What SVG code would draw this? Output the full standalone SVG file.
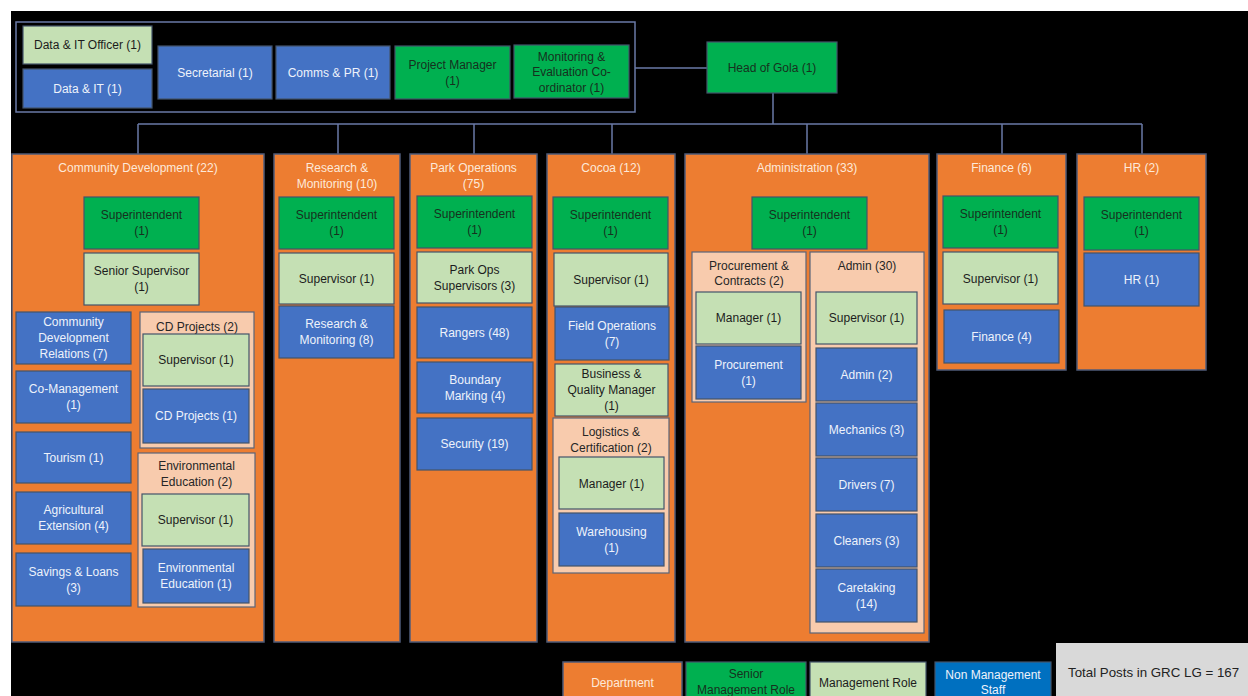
<svg xmlns="http://www.w3.org/2000/svg" width="1248" height="696" viewBox="0 0 1248 696">
<style>
text{font-family:"Liberation Sans",Arial,sans-serif;font-size:12px;text-anchor:middle}
.dept{fill:#ed7d31;stroke:#4f5b78;stroke-width:1.5}
.sen{fill:#00b050;stroke:#44546a;stroke-width:1.2}
.mgr{fill:#c5e0b4;stroke:#44546a;stroke-width:1.2}
.staff{fill:#4472c4;stroke:#44546a;stroke-width:1.2}
.grp{fill:#f8cbad;stroke:#5b6478;stroke-width:1.2}
.ts{fill:#16301e}
.tm{fill:#1c1c1c}
.tb{fill:#eef2fb}
.tg{fill:#262626}
.td{fill:#fde9d9}
.conn{fill:none;stroke:#6a79a6;stroke-width:1.5}
</style>
<rect x="0" y="0" width="1248" height="696" fill="#ffffff"/>
<rect x="11" y="11" width="1237" height="685" fill="#000000"/>

<g id="connectors">
<rect x="16" y="22" width="619" height="90" class="conn"/>
<path class="conn" d="M635,68 H707 M773,93 V124 M138,124 H1142 M138,124 V154 M338,124 V154 M474,124 V154 M612,124 V154 M807,124 V154 M1002,124 V154 M1142,124 V154"/>
</g>

<g id="n-data-it-officer"><rect x="23" y="26" width="129" height="38" class="mgr"/><text x="87.5" y="49" class="tm">Data &amp; IT Officer (1)</text></g>
<g id="n-data-it"><rect x="23" y="69" width="129" height="39" class="staff"/><text x="87.5" y="93" class="tb">Data &amp; IT (1)</text></g>
<g id="n-secretarial"><rect x="158" y="46" width="114" height="53" class="staff"/><text x="215" y="77" class="tb">Secretarial (1)</text></g>
<g id="n-comms"><rect x="276" y="46" width="114" height="53" class="staff"/><text x="333" y="77" class="tb">Comms &amp; PR (1)</text></g>
<g id="n-pm"><rect x="395" y="46" width="115" height="53" class="sen"/><text x="452.5" y="69" class="ts">Project Manager</text><text x="452.5" y="85" class="ts">(1)</text></g>
<g id="n-me"><rect x="514" y="45" width="115" height="53" class="sen"/><text x="571.5" y="61" class="ts">Monitoring &amp;</text><text x="571.5" y="76" class="ts">Evaluation Co-</text><text x="571.5" y="92" class="ts">ordinator (1)</text></g>
<g id="n-head"><rect x="707" y="42" width="130" height="51" class="sen"/><text x="772" y="72" class="ts">Head of Gola (1)</text></g>

<g id="d-cd"><rect x="12" y="154" width="252" height="488" class="dept"/><text x="138" y="172" class="td">Community Development (22)</text></g>
<g id="d-rm"><rect x="274" y="154" width="126" height="488" class="dept"/><text x="337" y="172" class="td">Research &amp;</text><text x="337" y="188" class="td">Monitoring (10)</text></g>
<g id="d-po"><rect x="410" y="154" width="127" height="488" class="dept"/><text x="473.5" y="172" class="td">Park Operations</text><text x="473.5" y="188" class="td">(75)</text></g>
<g id="d-cocoa"><rect x="547" y="154" width="128" height="488" class="dept"/><text x="611" y="172" class="td">Cocoa (12)</text></g>
<g id="d-admin"><rect x="685" y="154" width="244" height="488" class="dept"/><text x="807" y="172" class="td">Administration (33)</text></g>
<g id="d-fin"><rect x="937" y="154" width="129" height="216" class="dept"/><text x="1001.5" y="172" class="td">Finance (6)</text></g>
<g id="d-hr"><rect x="1077" y="154" width="129" height="216" class="dept"/><text x="1141.5" y="172" class="td">HR (2)</text></g>

<g id="cd-sup"><rect x="84" y="197" width="115" height="52" class="sen"/><text x="141.5" y="219" class="ts">Superintendent</text><text x="141.5" y="235" class="ts">(1)</text></g>
<g id="cd-ssup"><rect x="84" y="253" width="115" height="52" class="mgr"/><text x="141.5" y="275" class="tm">Senior Supervisor</text><text x="141.5" y="291" class="tm">(1)</text></g>
<g id="cd-cdr"><rect x="16" y="312" width="115" height="52" class="staff"/><text x="73.5" y="326" class="tb">Community</text><text x="73.5" y="342" class="tb">Development</text><text x="73.5" y="358" class="tb">Relations (7)</text></g>
<g id="cd-proj"><rect x="140" y="312" width="114" height="136" class="grp"/><text x="197" y="331" class="tg">CD Projects (2)</text></g>
<g id="cd-proj-sup"><rect x="143" y="334" width="106" height="52" class="mgr"/><text x="196" y="364" class="tm">Supervisor (1)</text></g>
<g id="cd-proj-staff"><rect x="143" y="389" width="106" height="54" class="staff"/><text x="196" y="420" class="tb">CD Projects (1)</text></g>
<g id="cd-comgmt"><rect x="16" y="371" width="115" height="52" class="staff"/><text x="73.5" y="393" class="tb">Co-Management</text><text x="73.5" y="409" class="tb">(1)</text></g>
<g id="cd-tourism"><rect x="16" y="432" width="115" height="51" class="staff"/><text x="73.5" y="462" class="tb">Tourism (1)</text></g>
<g id="cd-agri"><rect x="16" y="492" width="115" height="52" class="staff"/><text x="73.5" y="514" class="tb">Agricultural</text><text x="73.5" y="530" class="tb">Extension (4)</text></g>
<g id="cd-savings"><rect x="16" y="553" width="115" height="53" class="staff"/><text x="73.5" y="576" class="tb">Savings &amp; Loans</text><text x="73.5" y="592" class="tb">(3)</text></g>
<g id="cd-ee"><rect x="138" y="453" width="117" height="154" class="grp"/><text x="196.5" y="470" class="tg">Environmental</text><text x="196.5" y="486" class="tg">Education (2)</text></g>
<g id="cd-ee-sup"><rect x="142" y="494" width="107" height="52" class="mgr"/><text x="195.5" y="524" class="tm">Supervisor (1)</text></g>
<g id="cd-ee-staff"><rect x="143" y="549" width="106" height="54" class="staff"/><text x="196" y="572" class="tb">Environmental</text><text x="196" y="588" class="tb">Education (1)</text></g>

<g id="rm-sup"><rect x="279" y="197" width="115" height="52" class="sen"/><text x="336.5" y="219" class="ts">Superintendent</text><text x="336.5" y="235" class="ts">(1)</text></g>
<g id="rm-supv"><rect x="279" y="253" width="115" height="51" class="mgr"/><text x="336.5" y="283" class="tm">Supervisor (1)</text></g>
<g id="rm-staff"><rect x="279" y="306" width="115" height="52" class="staff"/><text x="336.5" y="328" class="tb">Research &amp;</text><text x="336.5" y="344" class="tb">Monitoring (8)</text></g>

<g id="po-sup"><rect x="417" y="196" width="115" height="52" class="sen"/><text x="474.5" y="218" class="ts">Superintendent</text><text x="474.5" y="234" class="ts">(1)</text></g>
<g id="po-supv"><rect x="417" y="252" width="115" height="51" class="mgr"/><text x="474.5" y="274" class="tm">Park Ops</text><text x="474.5" y="290" class="tm">Supervisors (3)</text></g>
<g id="po-rangers"><rect x="417" y="307" width="115" height="51" class="staff"/><text x="474.5" y="337" class="tb">Rangers (48)</text></g>
<g id="po-boundary"><rect x="417" y="362" width="116" height="51" class="staff"/><text x="475" y="384" class="tb">Boundary</text><text x="475" y="400" class="tb">Marking (4)</text></g>
<g id="po-security"><rect x="417" y="418" width="115" height="52" class="staff"/><text x="474.5" y="448" class="tb">Security (19)</text></g>

<g id="co-sup"><rect x="553" y="197" width="115" height="52" class="sen"/><text x="610.5" y="219" class="ts">Superintendent</text><text x="610.5" y="235" class="ts">(1)</text></g>
<g id="co-supv"><rect x="554" y="253" width="114" height="53" class="mgr"/><text x="611" y="284" class="tm">Supervisor (1)</text></g>
<g id="co-field"><rect x="555" y="307" width="114" height="53" class="staff"/><text x="612" y="330" class="tb">Field Operations</text><text x="612" y="346" class="tb">(7)</text></g>
<g id="co-bqm"><rect x="555" y="364" width="113" height="52" class="mgr"/><text x="611.5" y="378" class="tm">Business &amp;</text><text x="611.5" y="394" class="tm">Quality Manager</text><text x="611.5" y="410" class="tm">(1)</text></g>
<g id="co-lc"><rect x="553" y="418" width="116" height="155" class="grp"/><text x="611" y="436" class="tg">Logistics &amp;</text><text x="611" y="452" class="tg">Certification (2)</text></g>
<g id="co-lc-mgr"><rect x="559" y="457" width="105" height="52" class="mgr"/><text x="611.5" y="488" class="tm">Manager (1)</text></g>
<g id="co-lc-staff"><rect x="559" y="513" width="105" height="53" class="staff"/><text x="611.5" y="536" class="tb">Warehousing</text><text x="611.5" y="552" class="tb">(1)</text></g>

<g id="ad-sup"><rect x="752" y="197" width="115" height="52" class="sen"/><text x="809.5" y="219" class="ts">Superintendent</text><text x="809.5" y="235" class="ts">(1)</text></g>
<g id="ad-pc"><rect x="692" y="252" width="114" height="150" class="grp"/><text x="749" y="270" class="tg">Procurement &amp;</text><text x="749" y="285" class="tg">Contracts (2)</text></g>
<g id="ad-pc-mgr"><rect x="696" y="292" width="105" height="52" class="mgr"/><text x="748.5" y="322" class="tm">Manager (1)</text></g>
<g id="ad-pc-staff"><rect x="696" y="346" width="105" height="53" class="staff"/><text x="748.5" y="369" class="tb">Procurement</text><text x="748.5" y="385" class="tb">(1)</text></g>
<g id="ad-admin"><rect x="810" y="252" width="114" height="381" class="grp"/><text x="867" y="270" class="tg">Admin (30)</text></g>
<g id="ad-admin-sup"><rect x="816" y="292" width="101" height="52" class="mgr"/><text x="866.5" y="322" class="tm">Supervisor (1)</text></g>
<g id="ad-admin-staff"><rect x="816" y="348" width="101" height="53" class="staff"/><text x="866.5" y="379" class="tb">Admin (2)</text></g>
<g id="ad-mechanics"><rect x="816" y="403" width="101" height="53" class="staff"/><text x="866.5" y="434" class="tb">Mechanics (3)</text></g>
<g id="ad-drivers"><rect x="816" y="458" width="101" height="53" class="staff"/><text x="866.5" y="489" class="tb">Drivers (7)</text></g>
<g id="ad-cleaners"><rect x="816" y="514" width="101" height="53" class="staff"/><text x="866.5" y="545" class="tb">Cleaners (3)</text></g>
<g id="ad-caretaking"><rect x="816" y="569" width="101" height="53" class="staff"/><text x="866.5" y="592" class="tb">Caretaking</text><text x="866.5" y="608" class="tb">(14)</text></g>

<g id="fi-sup"><rect x="943" y="196" width="115" height="52" class="sen"/><text x="1000.5" y="218" class="ts">Superintendent</text><text x="1000.5" y="234" class="ts">(1)</text></g>
<g id="fi-supv"><rect x="943" y="252" width="115" height="52" class="mgr"/><text x="1000.5" y="283" class="tm">Supervisor (1)</text></g>
<g id="fi-staff"><rect x="944" y="310" width="115" height="53" class="staff"/><text x="1001.5" y="341" class="tb">Finance (4)</text></g>

<g id="hr-sup"><rect x="1084" y="197" width="115" height="53" class="sen"/><text x="1141.5" y="219" class="ts">Superintendent</text><text x="1141.5" y="235" class="ts">(1)</text></g>
<g id="hr-staff"><rect x="1084" y="253" width="115" height="53" class="staff"/><text x="1141.5" y="284" class="tb">HR (1)</text></g>

<g id="legend">
<rect x="563" y="662" width="119" height="40" class="dept"/><text x="622.5" y="687" class="td">Department</text>
<rect x="686" y="662" width="120" height="40" class="sen"/><text x="746" y="678" class="ts">Senior</text><text x="746" y="694" class="ts">Management Role</text>
<rect x="810" y="662" width="116" height="40" class="mgr"/><text x="868" y="687" class="tm">Management Role</text>
<rect x="935" y="662" width="116" height="40" fill="#0070c0" stroke="#44546a" stroke-width="1.2"/><text x="993" y="679" class="tb">Non Management</text><text x="993" y="694" class="tb">Staff</text>
</g>
<g id="total"><rect x="1056" y="643" width="192" height="53" fill="#d9d9d9"/><text x="1068" y="677" style="text-anchor:start;font-size:13.3px" fill="#222222">Total Posts in GRC LG = 167</text></g>
</svg>
